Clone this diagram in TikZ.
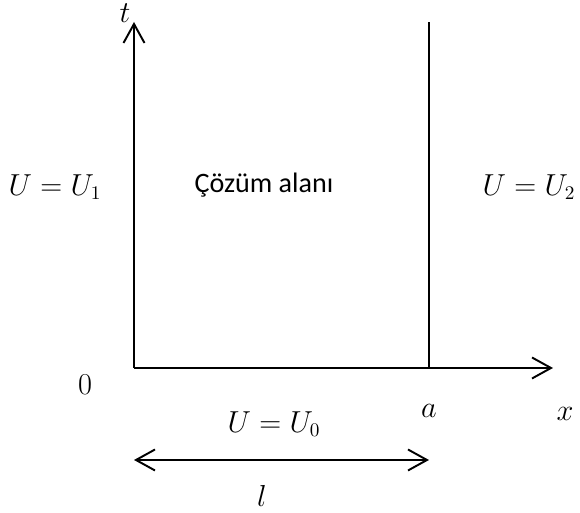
\documentclass[tikz,border=0pt]{standalone}
\usepackage{fontspec}
\newfontfamily\calibri{Carlito}
\usetikzlibrary{arrows.meta}

\begin{document}
\begin{tikzpicture}[
			axis/.style={-{Straight Barb[length=0.38cm, width=0.42cm, line width=1.1pt]}, line width=1.1pt},
			span/.style={{Straight Barb[length=0.38cm, width=0.42cm, line width=1.1pt]}-{Straight Barb[length=0.38cm, width=0.42cm, line width=1.1pt]}, line width=1.1pt},
			wall/.style={line width=0.7pt},
			lbl/.style={font=\fontsize{16}{19}\selectfont, inner sep=1pt}]

			\useasboundingbox (0,0) rectangle (11.6,10.26);

			\coordinate (O) at (2.68,2.90);
			\coordinate (T) at (2.68,9.82);
			\coordinate (X) at (11.06,2.90);
			\coordinate (A0) at (8.58,2.90);
			\coordinate (A1) at (8.58,9.82);
			\coordinate (L0) at (2.68,1.06);
			\coordinate (L1) at (8.58,1.06);

			\draw[axis] (O) -- (T);
			\draw[axis] (O) -- (X);
			\draw[wall] (A0) -- (A1);
			\draw[span] (L0) -- (L1);

			\node[lbl] (tlab) at (2.50,10.00) {$t$};
			\node[lbl] (xlab) at (11.30,1.98) {$x$};
			\node[lbl] (zero) at (1.70,2.56) {$0$};
			\node[lbl] (alab) at (8.58,2.04) {$a$};
			\node[lbl] (U1) at (1.10,6.52) {$U=U_1$};
			\node[lbl] (U2) at (10.58,6.52) {$U=U_2$};
			\node[lbl] (U0) at (5.48,1.78) {$U=U_0$};
			\node[lbl] (llab) at (5.24,0.34) {$l$};
			\node[font=\calibri\fontsize{16}{19}\selectfont] (area) at (5.28,6.56) {Çözüm alanı};
		\end{tikzpicture}
\end{document}
